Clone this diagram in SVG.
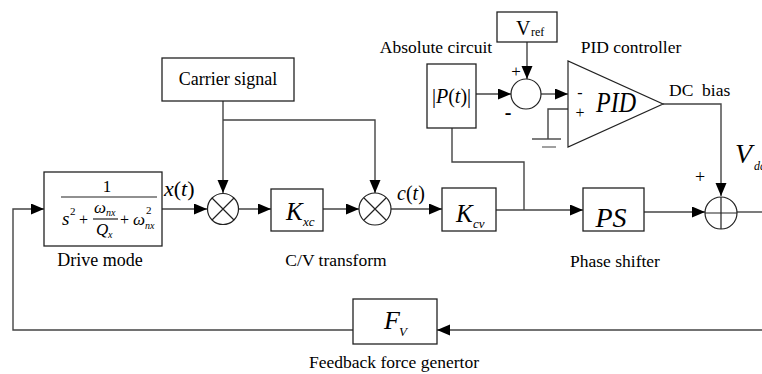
<svg xmlns="http://www.w3.org/2000/svg" width="762" height="374" viewBox="0 0 762 374" font-family="Liberation Serif">
<defs>
<marker id="ah" markerUnits="userSpaceOnUse" markerWidth="14" markerHeight="12" refX="13" refY="5.5" orient="auto"><path d="M0,0 L13,5.5 L0,11 z" fill="#000"/></marker>
<style>
.box{fill:#fff;stroke:#222;stroke-width:1.3}
.thin{fill:none;stroke:#222;stroke-width:1.2}
.arr{marker-end:url(#ah)}
</style>
</defs>
<rect width="762" height="374" fill="#fff"/>

<g id="connectors" fill="none" stroke="#444" stroke-width="1.4">
<path class="arr" d="M762,330 H437"/>
<path class="arr" d="M353,330 H13 V209 H44"/>
<path class="arr" d="M162,209 H207"/>
<path class="arr" d="M223,101 V193"/>
<path class="arr" d="M223,120 H375 V193"/>
<path class="arr" d="M238,209 H271"/>
<path class="arr" d="M323,209 H359"/>
<path class="arr" d="M391,209 H442"/>
<path class="arr" d="M496,210 H583"/>
<path d="M452,128 V162 H524 V210"/>
<path class="arr" d="M476,94 H511"/>
<path class="arr" d="M527,42 V79"/>
<path class="arr" d="M541,94 H568"/>
<path d="M568,109 H548 V139"/>
<path d="M532,139 H561"/>
<path d="M542,147 H556" stroke="#777"/>
<path class="arr" d="M663,104 H721 V196"/>
<path class="arr" d="M644,212 H705"/>
<path d="M737,212 H762"/>
</g>

<g id="drive-mode">
<rect class="box" x="44" y="172" width="118" height="74"/>
<text font-family="Liberation Serif" x="107" y="192" font-size="17" text-anchor="middle">1</text>
<line class="thin" x1="61" y1="197" x2="157" y2="197"/>
<text font-family="Liberation Serif" x="62" y="225" font-size="19" font-style="italic">s</text>
<text font-family="Liberation Serif" x="70" y="215" font-size="11">2</text>
<text font-family="Liberation Serif" x="79" y="225" font-size="16">+</text>
<text font-family="Liberation Serif" x="94" y="213" font-size="17" font-style="italic">ω</text>
<text font-family="Liberation Serif" x="106" y="216" font-size="10" font-style="italic">nx</text>
<line class="thin" x1="93" y1="219" x2="118" y2="219" stroke-width="1"/>
<text font-family="Liberation Serif" x="96" y="235" font-size="17" font-style="italic">Q</text>
<text font-family="Liberation Serif" x="108" y="238" font-size="10" font-style="italic">x</text>
<text font-family="Liberation Serif" x="120" y="225" font-size="16">+</text>
<text font-family="Liberation Serif" x="133" y="225" font-size="17" font-style="italic">ω</text>
<text font-family="Liberation Serif" x="146" y="214" font-size="11">2</text>
<text font-family="Liberation Serif" x="145" y="229" font-size="10" font-style="italic">nx</text>
<text font-family="Liberation Serif" x="100" y="266" font-size="18" text-anchor="middle">Drive mode</text>
</g>

<g id="x-label"><text font-family="Liberation Serif" x="164" y="196" font-size="22" font-style="italic">x<tspan font-style="normal">(</tspan>t<tspan font-style="normal">)</tspan></text></g>

<g id="carrier">
<rect class="box" x="162" y="58" width="132" height="43"/>
<text font-family="Liberation Serif" x="228" y="85" font-size="18" text-anchor="middle">Carrier signal</text>
</g>

<g id="mult1">
<circle class="thin" cx="223" cy="209" r="15.5" fill="#fff"/>
<path class="thin" d="M212,198 L234,220 M234,198 L212,220"/>
</g>

<g id="kxc">
<rect class="box" x="271" y="189" width="52" height="42"/>
<text font-family="Liberation Serif" x="286" y="220" font-size="25" font-style="italic">K</text>
<text font-family="Liberation Serif" x="303" y="226" font-size="13" font-style="italic">xc</text>
</g>

<g id="mult2">
<circle class="thin" cx="375" cy="209" r="16" fill="#fff"/>
<path class="thin" d="M364,198 L386,220 M386,198 L364,220"/>
</g>

<g id="ct-label"><text font-family="Liberation Serif" x="397" y="200" font-size="20" font-style="italic">c<tspan font-style="normal">(</tspan>t<tspan font-style="normal">)</tspan></text></g>

<g id="kcv">
<rect class="box" x="442" y="188" width="54" height="43"/>
<text font-family="Liberation Serif" x="456" y="222" font-size="25" font-style="italic">K</text>
<text font-family="Liberation Serif" x="473" y="228" font-size="13" font-style="italic">cv</text>
</g>

<g id="cv-label"><text font-family="Liberation Serif" x="336" y="266" font-size="17.5" text-anchor="middle">C/V transform</text></g>

<g id="absolute">
<rect class="box" x="427" y="64" width="49" height="64"/>
<text font-family="Liberation Serif" x="451.5" y="103" font-size="20" text-anchor="middle">|<tspan font-style="italic">P</tspan>(<tspan font-style="italic">t</tspan>)|</text>
<text font-family="Liberation Serif" x="436" y="53" font-size="17.5" text-anchor="middle">Absolute circuit</text>
</g>

<g id="vref">
<rect class="box" x="497" y="12" width="60" height="30"/>
<text font-family="Liberation Serif" x="516" y="35" font-size="20">V</text>
<text font-family="Liberation Serif" x="531" y="36" font-size="12">ref</text>
</g>

<g id="sum1">
<circle class="thin" cx="526" cy="94" r="15" fill="#fff"/>
<text font-family="Liberation Serif" x="516" y="77" font-size="17" text-anchor="middle">+</text>
<text font-family="Liberation Serif" x="508" y="119" font-size="20" font-weight="bold" text-anchor="middle">-</text>
</g>

<g id="pid">
<path class="thin" d="M568,61 L568,147 L663,104 Z" fill="#fff"/>
<text font-family="Liberation Serif" x="580" y="98" font-size="16" text-anchor="middle">-</text>
<text font-family="Liberation Serif" x="580" y="118" font-size="16" text-anchor="middle">+</text>
<text font-family="Liberation Serif" x="596" y="112" font-size="29" font-style="italic" textLength="40" lengthAdjust="spacingAndGlyphs">PID</text>
<text font-family="Liberation Serif" x="631" y="53" font-size="17.5" text-anchor="middle">PID controller</text>
</g>

<g id="dc-bias"><text font-family="Liberation Serif" x="669" y="96" font-size="17.5">DC&#160; bias</text></g>

<g id="ps">
<rect class="box" x="583" y="188" width="61" height="43"/>
<text font-family="Liberation Serif" x="611" y="227" font-size="28" font-style="italic" text-anchor="middle">PS</text>
<text font-family="Liberation Serif" x="615" y="267" font-size="17.5" text-anchor="middle">Phase shifter</text>
</g>

<g id="sum2">
<circle class="thin" cx="721" cy="213" r="16" fill="#fff"/>
<path class="thin" d="M705,213 H737 M721,197 V229"/>
<text font-family="Liberation Serif" x="700" y="183" font-size="18" text-anchor="middle">+</text>
</g>

<g id="vdc">
<text font-family="Liberation Serif" x="735" y="163" font-size="28" font-style="italic">V</text>
<text font-family="Liberation Serif" x="754" y="170" font-size="12" font-style="italic">dc</text>
</g>

<g id="fv">
<rect class="box" x="353" y="299" width="84" height="45"/>
<text font-family="Liberation Serif" x="384" y="329" font-size="26" font-style="italic">F</text>
<text font-family="Liberation Serif" x="399" y="336" font-size="13" font-style="italic">V</text>
<text font-family="Liberation Serif" x="394" y="368" font-size="17.5" text-anchor="middle">Feedback force genertor</text>
</g>
</svg>
